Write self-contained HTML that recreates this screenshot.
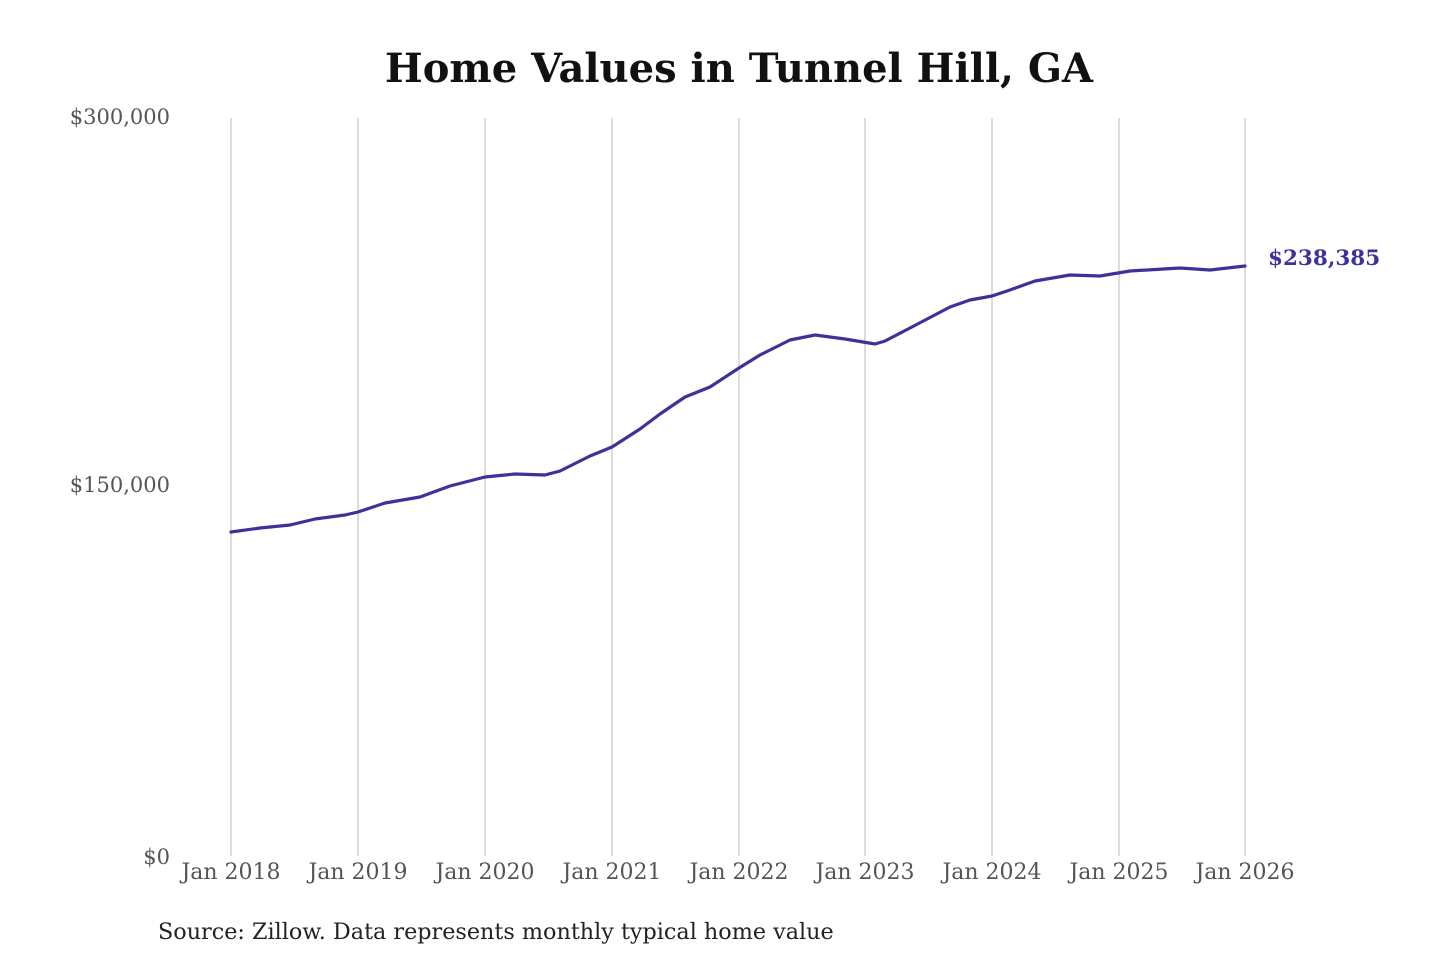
<!DOCTYPE html>
<html><head><meta charset="utf-8"><style>
html,body{margin:0;padding:0;background:#fff;}
svg{display:block;}
</style></head><body>
<svg width="1440" height="960" xmlns="http://www.w3.org/2000/svg" font-family="'DejaVu Serif','Liberation Serif',serif">
<rect width="1440" height="960" fill="#fff"/>
<text x="739" y="82" text-anchor="middle" font-size="40" font-weight="bold" fill="#111">Home Values in Tunnel Hill, GA</text>
<g font-size="21" fill="#555" text-anchor="end">
<text x="170" y="124">$300,000</text>
<text x="170" y="492">$150,000</text>
<text x="170" y="864">$0</text>
</g>
<g stroke="#c4c4c4" stroke-width="1.2">
<line x1="231" y1="118" x2="231" y2="856"/><line x1="358" y1="118" x2="358" y2="856"/>
<line x1="485" y1="118" x2="485" y2="856"/><line x1="612" y1="118" x2="612" y2="856"/>
<line x1="739" y1="118" x2="739" y2="856"/><line x1="865" y1="118" x2="865" y2="856"/>
<line x1="992" y1="118" x2="992" y2="856"/><line x1="1119" y1="118" x2="1119" y2="856"/>
<line x1="1245" y1="118" x2="1245" y2="856"/>
</g>
<g font-size="22" fill="#555" text-anchor="middle">
<text x="231" y="879">Jan 2018</text><text x="358" y="879">Jan 2019</text>
<text x="485" y="879">Jan 2020</text><text x="612" y="879">Jan 2021</text>
<text x="739" y="879">Jan 2022</text><text x="865" y="879">Jan 2023</text>
<text x="992" y="879">Jan 2024</text><text x="1119" y="879">Jan 2025</text>
<text x="1245" y="879">Jan 2026</text>
</g>
<polyline fill="none" stroke="#3b3399" stroke-width="3.2" stroke-linejoin="round" stroke-linecap="round"
points="231,532 260,528 290,525 315,519 345,515 358,512 385,503 420,497 450,486 485,477 515,474 545,475 560,471 590,456 612,447 640,429 660,414 685,397 710,387 739,368 760,355 790,340 815,335 845,339 875,344 885,341 910,328 950,307 970,300 992,296 1010,290 1035,281 1070,275 1100,276 1130,271 1180,268 1210,270 1245,266"/>
<text x="1268" y="265" font-size="21.5" font-weight="bold" fill="#3b3399">$238,385</text>
<text x="158" y="939" font-size="22.3" fill="#222">Source: Zillow. Data represents monthly typical home value</text>
</svg>
</body></html>
